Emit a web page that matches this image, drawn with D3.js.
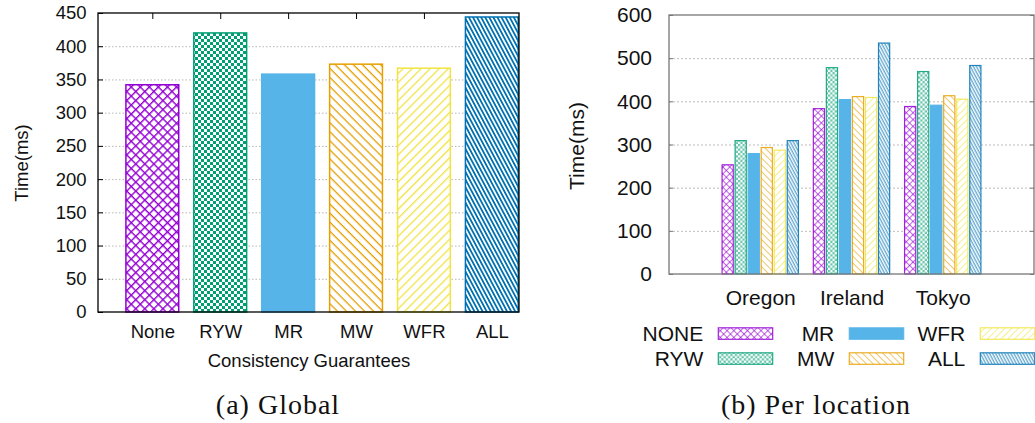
<!DOCTYPE html>
<html>
<head>
<meta charset="utf-8">
<script src="https://cdn.jsdelivr.net/npm/d3@7"></script>
<style>
  body { margin: 0; background: #fff; }
  svg text { font-family: "Liberation Sans", Arial, sans-serif; fill: #111; }
  .caption { font-family: "Liberation Serif", "Times New Roman", serif !important; }
</style>
</head>
<body>
<div id="chart"></div>
<script>
// Data
// ===========================
// (a) Global: one bar per consistency guarantee
var guarantees = ["None", "RYW", "MR", "MW", "WFR", "ALL"];
var globalTimes = [342, 420, 358, 373, 367, 444];
var globalTicks = [0, 50, 100, 150, 200, 250, 300, 350, 400, 450];

// (b) Per location: one cluster per location, one bar per series
var locations = ["Oregon", "Ireland", "Tokyo"];
var seriesNames = ["NONE", "RYW", "MR", "MW", "WFR", "ALL"];
var noneTimes = [253, 383, 388];
var rywTimes = [309, 478, 469];
var mrTimes = [279, 404, 391];
var mwTimes = [293, 411, 413];
var wfrTimes = [287, 409, 405];
var allTimes = [309, 535, 483];
var locationTicks = [0, 100, 200, 300, 400, 500, 600];

// gnuplot's default palette
var colors = ["#9400d3", "#009e73", "#56b4e9", "#e69f00", "#f0e442", "#0072b2"];

var width = 1035;
var height = 423;

var svg = d3.select("#chart")
  .append("svg")
  .attr("width", width)
  .attr("height", height);

var defs = svg.append("defs");

// Fill patterns
// ===========================
function hatch(id, color, spacing, lw, angle, alpha) {
  var p = defs.append("pattern")
    .attr("id", id)
    .attr("patternUnits", "userSpaceOnUse")
    .attr("width", 4)
    .attr("height", spacing)
    .attr("patternTransform", "rotate(" + angle + ")");
  p.append("rect").attr("width", 4).attr("height", spacing).attr("fill", "#fff");
  p.append("rect").attr("width", 4).attr("height", lw).attr("fill", color).attr("opacity", alpha);
}

function cross(id, color, spacing, lw, alpha) {
  var p = defs.append("pattern")
    .attr("id", id)
    .attr("patternUnits", "userSpaceOnUse")
    .attr("width", spacing)
    .attr("height", spacing)
    .attr("patternTransform", "rotate(45)");
  p.append("rect").attr("width", spacing).attr("height", spacing).attr("fill", "#fff");
  p.append("rect").attr("width", spacing).attr("height", lw).attr("fill", color).attr("opacity", alpha);
  p.append("rect").attr("width", lw).attr("height", spacing).attr("fill", color).attr("opacity", alpha);
}

function checker(id, color, cell, alpha) {
  var p = defs.append("pattern")
    .attr("id", id)
    .attr("patternUnits", "userSpaceOnUse")
    .attr("width", cell * 2)
    .attr("height", cell * 2);
  p.append("rect").attr("width", cell * 2).attr("height", cell * 2).attr("fill", "#fff");
  p.append("rect").attr("width", cell).attr("height", cell).attr("fill", color).attr("opacity", alpha);
  p.append("rect").attr("x", cell).attr("y", cell).attr("width", cell).attr("height", cell).attr("fill", color).attr("opacity", alpha);
}

// coarse set for the left chart, finer and paler set for the right one
function makePatterns(suffix, s, alpha) {
  cross("p0" + suffix, colors[0], 6.4 * s, 1.4 * s, alpha);
  checker("p1" + suffix, colors[1], 3 * s, alpha);
  hatch("p3" + suffix, colors[3], 6.4 * s, 1.3 * s, 45, alpha);
  hatch("p4" + suffix, colors[4], 6.4 * s, 1.3 * s, -45, alpha);
  hatch("p5" + suffix, colors[5], 3.6 * s, 1.8 * s, 62, alpha);
}
makePatterns("a", 1, 1);
makePatterns("b", 0.75, 0.6);

function fillFor(i, suffix) {
  return i === 2 ? colors[2] : "url(#p" + i + suffix + ")";
}

// (a) Global
// ===========================
var A = { left: 98, top: 13, right: 519, bottom: 312 };

var xA = d3.scaleLinear().domain([-0.8, 5.4]).range([A.left, A.right]);
var yA = d3.scaleLinear().domain([0, 450]).range([A.bottom, A.top]);
var barA = xA(0.4) - xA(-0.4);

var gA = svg.append("g");

// dotted grid
gA.append("g")
  .attr("transform", "translate(" + A.left + ",0)")
  .call(d3.axisLeft(yA).tickValues(globalTicks.slice(1, -1)).tickSize(-(A.right - A.left)).tickFormat(""))
  .call(function(g) {
    g.select(".domain").remove();
    g.selectAll("line").attr("stroke", "#b5b5b5").attr("stroke-dasharray", "1.5,2");
  });

gA.selectAll("rect.bar")
  .data(globalTimes)
  .enter()
  .append("rect")
  .attr("class", "bar")
  .attr("x", function(d, i) { return xA(i) - barA / 2 + 0.75; })
  .attr("y", function(d) { return yA(d); })
  .attr("width", barA - 1.5)
  .attr("height", function(d) { return yA(0) - yA(d); })
  .attr("fill", function(d, i) { return fillFor(i, "a"); })
  .attr("stroke", function(d, i) { return colors[i]; })
  .attr("stroke-width", 1.5);

// y axis with inward ticks
gA.append("g")
  .attr("transform", "translate(" + A.left + ",0)")
  .call(d3.axisLeft(yA).tickValues(globalTicks).tickSize(-5).tickPadding(11.5))
  .call(function(g) {
    g.select(".domain").remove();
    g.selectAll("line").attr("stroke", "#000");
    g.selectAll("text").attr("font-size", 18.5).attr("font-family", null);
  });

// x tick labels
gA.append("g")
  .attr("transform", "translate(0," + A.bottom + ")")
  .call(d3.axisBottom(xA).tickValues(d3.range(guarantees.length)).tickSize(0).tickPadding(13.2)
    .tickFormat(function(i) { return guarantees[i]; }))
  .call(function(g) {
    g.select(".domain").remove();
    g.selectAll("text").attr("font-size", 18.5).attr("font-family", null);
  });

// mirrored top ticks
gA.append("g")
  .attr("transform", "translate(0," + A.top + ")")
  .call(d3.axisTop(xA).tickValues(d3.range(guarantees.length - 1)).tickSize(-6).tickFormat(""))
  .call(function(g) {
    g.select(".domain").remove();
    g.selectAll("line").attr("stroke", "#000");
  });

gA.append("rect")
  .attr("x", A.left).attr("y", A.top)
  .attr("width", A.right - A.left).attr("height", A.bottom - A.top)
  .attr("fill", "none").attr("stroke", "#000").attr("stroke-width", 1.3);

gA.append("text")
  .attr("transform", "translate(28," + 163 + ") rotate(-90)")
  .attr("text-anchor", "middle")
  .attr("font-size", 18.5)
  .text("Time(ms)");

gA.append("text")
  .attr("x", (A.left + A.right) / 2 + 0.5)
  .attr("y", 367)
  .attr("text-anchor", "middle")
  .attr("font-size", 18.5)
  .text("Consistency Guarantees");

gA.append("text")
  .attr("class", "caption")
  .attr("x", 278)
  .attr("y", 414)
  .attr("text-anchor", "middle")
  .attr("font-size", 28)
  .attr("letter-spacing", 1)
  .text("(a) Global");

// (b) Per location
// ===========================
var B = { left: 669, top: 15, right: 1034, bottom: 274 };
var perSeries = [noneTimes, rywTimes, mrTimes, mwTimes, wfrTimes, allTimes];

var xB = d3.scaleLinear().domain([-1, 3]).range([B.left, B.right]);
var yB = d3.scaleLinear().domain([0, 600]).range([B.bottom, B.top]);
var slot = (xB(1) - xB(0)) / 7;
var barB = slot * 0.95;

var gB = svg.append("g");

gB.append("g")
  .attr("transform", "translate(" + B.left + ",0)")
  .call(d3.axisLeft(yB).tickValues(locationTicks.slice(1, -1)).tickSize(-(B.right - B.left)).tickFormat(""))
  .call(function(g) {
    g.select(".domain").remove();
    g.selectAll("line").attr("stroke", "#bdbdbd").attr("stroke-dasharray", "2,2");
  });

var cells = [];
perSeries.forEach(function(vals, s) {
  vals.forEach(function(v, l) {
    cells.push({ s: s, l: l, v: v });
  });
});

gB.selectAll("rect.bar")
  .data(cells)
  .enter()
  .append("rect")
  .attr("class", "bar")
  .attr("x", function(d) { return xB(d.l) + (d.s - 2.5) * slot - barB / 2 + 0.6; })
  .attr("y", function(d) { return yB(d.v); })
  .attr("width", barB - 1.2)
  .attr("height", function(d) { return yB(0) - yB(d.v); })
  .attr("fill", function(d) { return fillFor(d.s, "b"); })
  .attr("stroke", function(d) { return colors[d.s]; })
  .attr("stroke-opacity", function(d) { return d.s === 2 ? 1 : 0.85; })
  .attr("stroke-width", 1.2);

gB.append("g")
  .attr("transform", "translate(" + B.left + ",0)")
  .call(d3.axisLeft(yB).tickValues(locationTicks).tickSize(-4).tickPadding(17))
  .call(function(g) {
    g.select(".domain").remove();
    g.selectAll("line").attr("stroke", "#777");
    g.selectAll("text").attr("font-size", 21).attr("font-family", null);
  });

gB.append("g")
  .attr("transform", "translate(" + B.right + ",0)")
  .call(d3.axisRight(yB).tickValues(locationTicks).tickSize(-4).tickFormat(""))
  .call(function(g) {
    g.select(".domain").remove();
    g.selectAll("line").attr("stroke", "#777");
  });

gB.append("g")
  .attr("transform", "translate(0," + B.bottom + ")")
  .call(d3.axisBottom(xB).tickValues(d3.range(locations.length)).tickSize(0).tickPadding(15.6)
    .tickFormat(function(i) { return locations[i]; }))
  .call(function(g) {
    g.select(".domain").remove();
    g.selectAll("text").attr("font-size", 21).attr("font-family", null);
  });

gB.append("rect")
  .attr("x", B.left).attr("y", B.top)
  .attr("width", B.right - B.left).attr("height", B.bottom - B.top)
  .attr("fill", "none").attr("stroke", "#777").attr("stroke-width", 1.3);

gB.append("text")
  .attr("transform", "translate(584," + 146 + ") rotate(-90)")
  .attr("text-anchor", "middle")
  .attr("font-size", 21)
  .text("Time(ms)");

// legend: three columns of two rows
var legend = gB.selectAll("g.legend")
  .data(seriesNames)
  .enter()
  .append("g")
  .attr("class", "legend")
  .attr("transform", function(d, i) {
    return "translate(" + (703.3 + Math.floor(i / 2) * 131) + "," + (333.3 + (i % 2) * 25) + ")";
  });

legend.append("text")
  .attr("text-anchor", "end")
  .attr("dy", "0.36em")
  .attr("font-size", 21)
  .text(function(d) { return d; });

legend.append("rect")
  .attr("x", 15)
  .attr("y", -5.5)
  .attr("width", 54.4)
  .attr("height", 11.5)
  .attr("fill", function(d, i) { return fillFor(i, "b"); })
  .attr("stroke", function(d, i) { return colors[i]; })
  .attr("stroke-opacity", 0.85)
  .attr("stroke-width", 1.2);

gB.append("text")
  .attr("class", "caption")
  .attr("x", 816)
  .attr("y", 414)
  .attr("text-anchor", "middle")
  .attr("font-size", 28)
  .attr("letter-spacing", 1)
  .text("(b) Per location");
</script>
</body>
</html>
